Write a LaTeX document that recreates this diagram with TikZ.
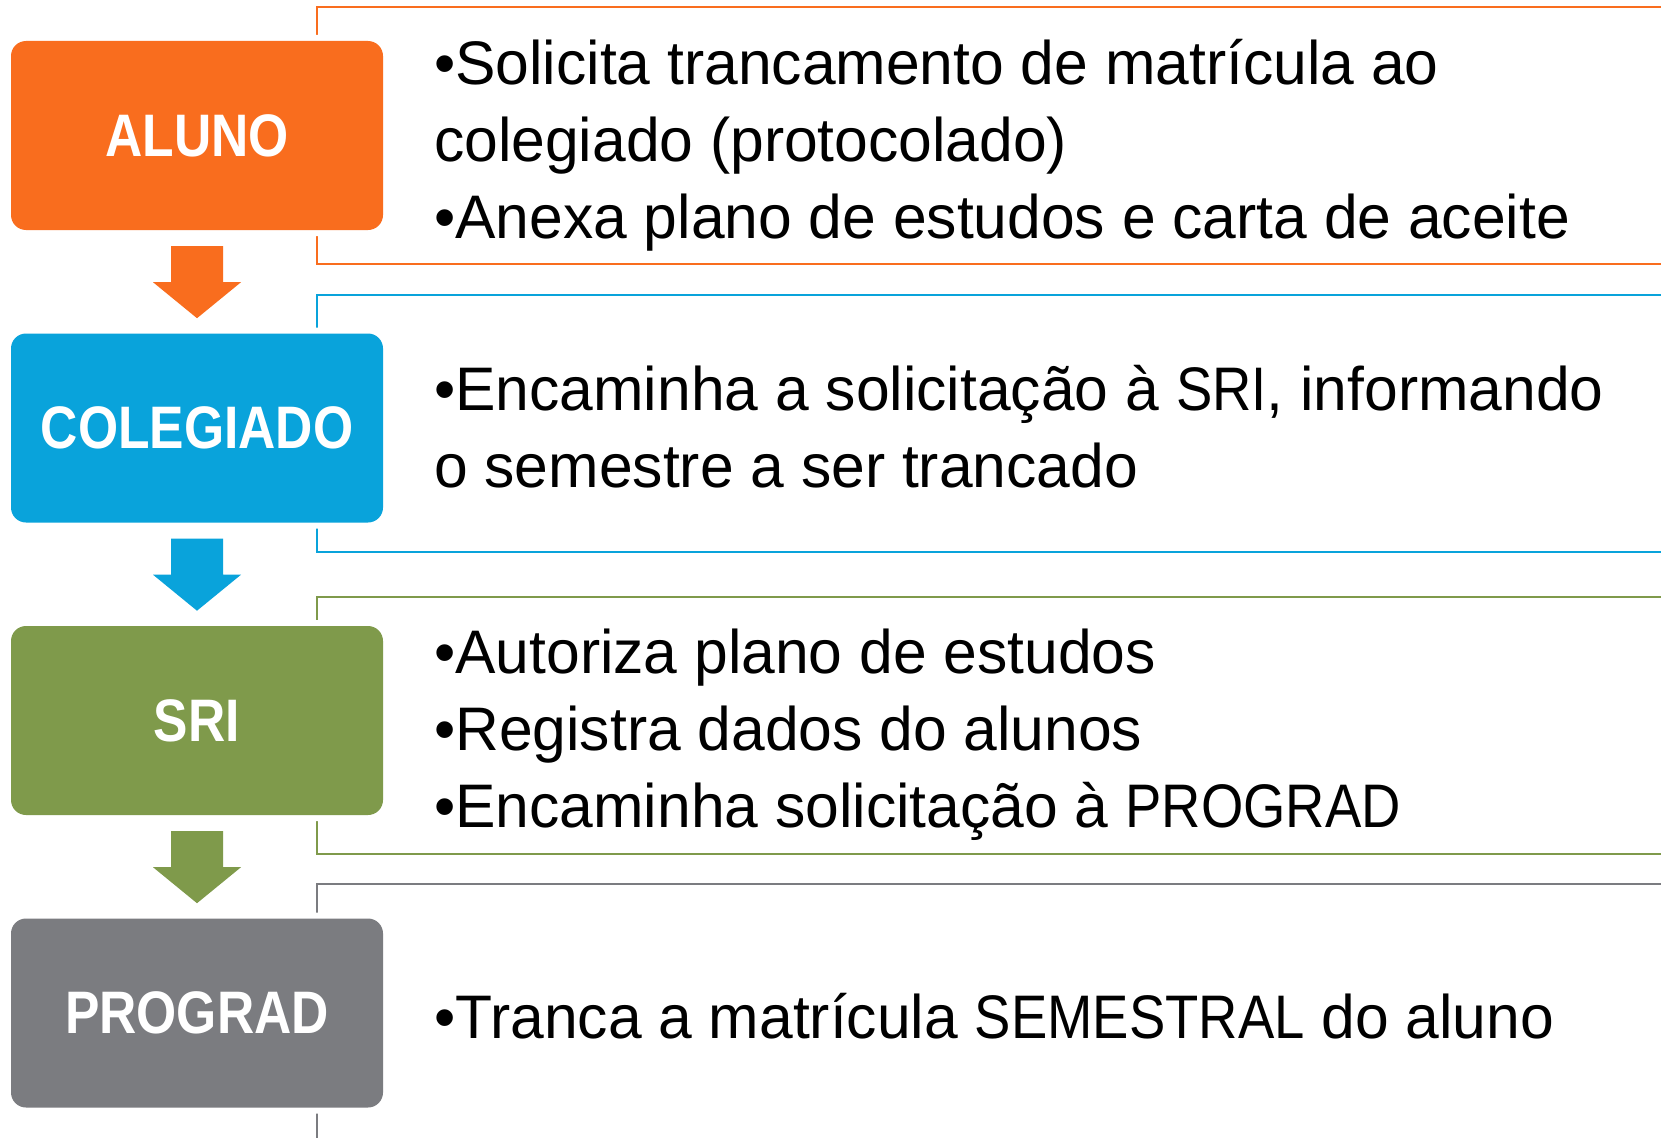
\documentclass[tikz,border=0pt]{standalone}
\usepackage{fontspec}
\setmainfont{Liberation Sans}
\newfontfamily\bodyfont[FakeStretch=0.985]{Liberation Sans}
\newfontfamily\capsfont[FakeStretch=0.885]{Liberation Sans}
\newfontfamily\lblfont[FakeStretch=0.86]{Liberation Sans Bold}
\newcommand{\caps}[1]{{\capsfont #1}}
\usetikzlibrary{calc}
\definecolor{cOr}{HTML}{F96D1E}
\definecolor{cBl}{HTML}{09A3DB}
\definecolor{cGr}{HTML}{7F9A4B}
\definecolor{cGy}{HTML}{7B7C80}
\tikzset{
  stagebox/.style={rectangle, rounded corners=15, minimum width=372, minimum height=189,
    inner sep=0, text=white, font=\lblfont\fontsize{60}{60}\selectfont,
    preaction={draw=white, line width=12}},
  desc/.style={anchor=west, align=left, inner sep=0, text=black,
    font=\bodyfont\fontsize{61.5}{77}\selectfont},
  bracket/.style={line width=2.5}
}
\begin{document}
\begin{tikzpicture}[x=1pt,y=-1pt]
\useasboundingbox (0,0) rectangle (1661,1137);
\clip (0,0) rectangle (1661,1137);
\fill[white] (0,0) rectangle (1661,1137);
% brackets
\draw[bracket, cOr] (1700,7) -| (317,264) -- (1700,264);
\draw[bracket, cBl] (1700,295) -| (317,552) -- (1700,552);
\draw[bracket, cGr] (1700,597) -| (317,854) -- (1700,854);
\draw[bracket, cGy] (1700,884) -| (317,1141) -- (1700,1141);
% boxes
\node[stagebox, fill=cOr] (aluno) at (197,135.5) {ALUNO};
\node[stagebox, fill=cBl] (coleg) at (197,428) {COLEGIADO};
\node[stagebox, fill=cGr] (sri) at (197,720.5) {SRI};
\node[stagebox, fill=cGy] (prog) at (197,1013) {PROGRAD};
% arrows
\foreach \src/\col in {aluno/cOr, coleg/cBl, sri/cGr}{
  \fill[\col] ($(\src.south)+(-26,16)$) -- ($(\src.south)+(26,16)$) -- ($(\src.south)+(26,52)$)
    -- ($(\src.south)+(44,52)$) -- ($(\src.south)+(0,88)$) -- ($(\src.south)+(-44,52)$)
    -- ($(\src.south)+(-26,52)$) -- cycle;
}
% texts
\node[desc] (t1) at (434,145) {•Solicita trancamento de matrícula ao\\colegiado (protocolado)\\•Anexa plano de estudos e carta de aceite};
\node[desc] (t2) at (434,427) {•Encaminha a solicitação à \caps{SRI}, informando\\o semestre a ser trancado};
\node[desc] (t3) at (434,735) {•Autoriza plano de estudos\\•Registra dados do alunos\\•Encaminha solicitação à \caps{PROGRAD}};
\node[desc] (t4) at (434,1016) {•Tranca a matrícula \caps{SEMESTRAL} do aluno};
\end{tikzpicture}
\end{document}
